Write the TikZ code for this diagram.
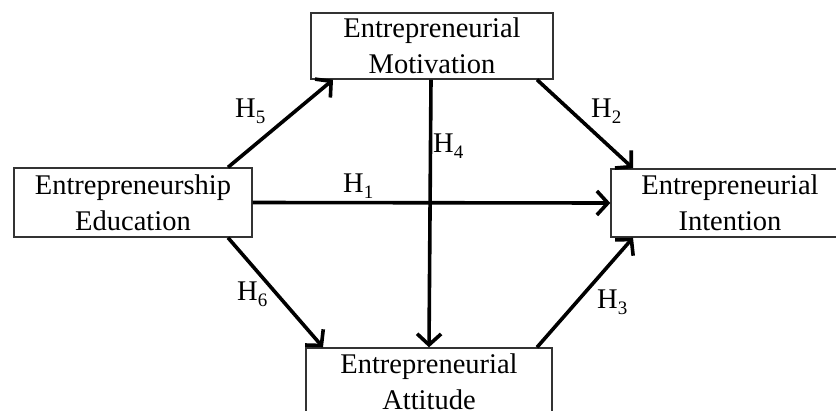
\documentclass[tikz,border=0pt]{standalone}
\usepackage{fontspec}
\setmainfont{Liberation Serif}
\usetikzlibrary{arrows.meta}
\newcommand{\hyp}[1]{H\raisebox{-6pt}{\fontsize{19}{19}\selectfont #1}}
\begin{document}
\begin{tikzpicture}[x=1pt,y=-1pt,
  box/.style={draw=black!80, line width=1.4pt, rectangle, inner sep=0pt, align=center,
    font=\fontsize{28.5}{36}\selectfont},
  arr/.style={line width=3.6pt, -{Straight Barb[length=11pt,width=24pt]}},
  lab/.style={anchor=base west, inner sep=0pt, font=\fontsize{28.5}{34}\selectfont}]
\useasboundingbox (0,0) rectangle (836,410);
\node[box, minimum width=238pt, minimum height=69pt] (edu) at (133,202.5) {Entrepreneurship\\Education};
\node[box, minimum width=242pt, minimum height=66pt] (mot) at (432,46) {Entrepreneurial\\Motivation};
\node[box, minimum width=246pt, minimum height=68pt] (att) at (429,382) {Entrepreneurial\\Attitude};
\node[box, minimum width=238pt, minimum height=68pt] (int) at (730,203) {Entrepreneurial\\Intention};
\draw[arr] ([xshift=95pt]edu.north) -- ([xshift=-99pt]mot.south);
\draw[arr] ([xshift=105pt]mot.south) -- ([xshift=-97pt]int.north);
\draw[arr] ([xshift=-1pt]mot.south) -- (att.north);
\draw[arr] (edu.east) -- (int.west);
\draw[arr] ([xshift=95pt]edu.south) -- ([xshift=-106pt]att.north);
\draw[arr] ([xshift=108pt]att.north) -- ([xshift=-97pt]int.south);
\node[lab] (h5) at (235,117) {\hyp{5}};
\node[lab] (h2) at (591,117) {\hyp{2}};
\node[lab] (h4) at (433,152) {\hyp{4}};
\node[lab] (h1) at (343,192) {\hyp{1}};
\node[lab] (h6) at (237,300) {\hyp{6}};
\node[lab] (h3) at (597,308) {\hyp{3}};
\end{tikzpicture}
\end{document}
